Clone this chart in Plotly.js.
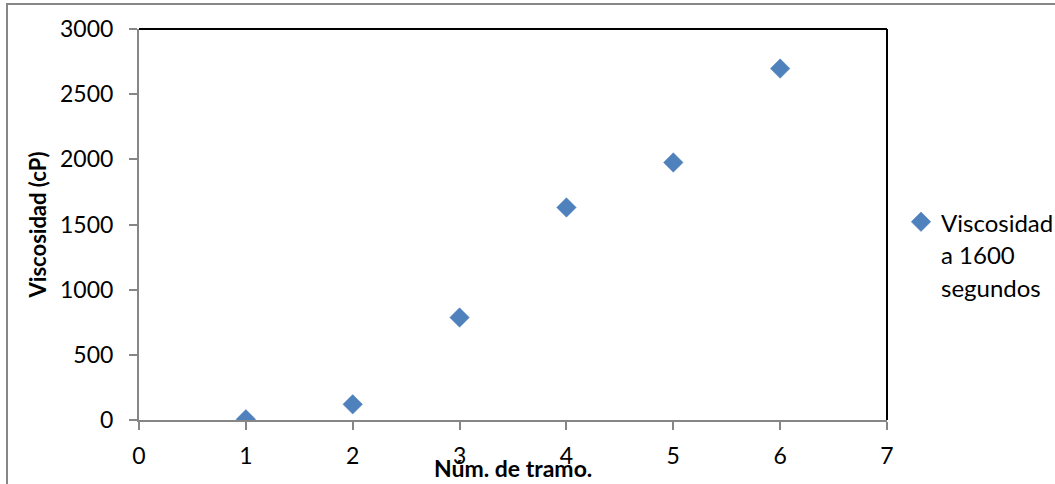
<!DOCTYPE html>
<html>
<head>
<meta charset="utf-8">
<script src="https://cdn.plot.ly/plotly-3.0.1.min.js"></script>
<style>
html,body{margin:0;padding:0;background:#fff;}
#chart{width:1055px;height:484px;}
</style>
</head>
<body>
<div id="chart"></div>
<script>
// Data
const tramo = [1, 2, 3, 4, 5, 6];
const viscosidad = [5, 120, 786, 1631, 1976, 2696];
const seriesName = "Viscosidad a 1600 segundos";
const xTitle = "Núm. de tramo.";
const yTitle = "Viscosidad (cP)";
const xTicks = [0, 1, 2, 3, 4, 5, 6, 7];
const yTicks = [0, 500, 1000, 1500, 2000, 2500, 3000];

const W = 1055, H = 484;
const M = {l: 139, r: 168, t: 29, b: 64, autoexpand: false};
const PW = W - M.l - M.r, PH = H - M.t - M.b;
const px = v => (v - M.l) / PW;       // pixel x -> paper x
const py = v => (H - M.b - v) / PH;   // pixel y -> paper y

const font = "Lato, 'Open Sans', sans-serif";
const legSpan = s => "<span style='font-size:24px'>" + s + "</span>";

const trace = {
  x: tramo,
  y: viscosidad,
  type: 'scatter',
  mode: 'markers',
  name: legSpan('Viscosidad') + '<br>' + legSpan('a 1600') + '<br>' + legSpan('segundos'),
  marker: {symbol: 'diamond', size: 15, color: '#4F81BD', line: {width: 0.5, color: '#4A7EBB'}},
  hovertemplate: seriesName + '<br>%{x}, %{y}<extra></extra>'
};

const layout = {
  width: W, height: H,
  margin: M,
  paper_bgcolor: '#ffffff',
  plot_bgcolor: '#ffffff',
  font: {family: font, size: 22, color: '#000000'},
  showlegend: true,
  legend: {
    x: px(901), y: py(199), xanchor: 'left', yanchor: 'top',
    font: {family: font, size: 25, color: '#000000'},
    valign: 'top',
    bgcolor: 'rgba(0,0,0,0)', borderwidth: 0
  },
  xaxis: {
    range: [0, 7],
    tickvals: xTicks,
    ticktext: xTicks.map(String),
    showgrid: false, zeroline: false,
    showline: true, linecolor: '#868686', linewidth: 2,
    ticks: 'outside', ticklen: 8, tickwidth: 2, tickcolor: '#868686',
    ticklabelstandoff: 6,
    tickfont: {family: font, size: 23, color: '#000000'},
    fixedrange: true
  },
  yaxis: {
    range: [0, 3000],
    tickvals: yTicks,
    ticktext: yTicks.map(String),
    showgrid: false, zeroline: false,
    showline: true, linecolor: '#868686', linewidth: 2,
    ticks: 'outside', ticklen: 8, tickwidth: 2, tickcolor: '#868686',
    ticklabelstandoff: 11,
    tickfont: {family: font, size: 23, color: '#000000'},
    title: {text: yTitle, font: {family: font, size: 22, color: '#000000', weight: 'bold'}, standoff: 7},
    fixedrange: true
  },
  annotations: [{
    text: '<b>' + xTitle + '</b>',
    xref: 'paper', yref: 'paper',
    x: 0.5, y: py(468), xanchor: 'center', yanchor: 'middle',
    showarrow: false,
    font: {family: font, size: 23, color: '#000000'}
  }],
  shapes: [
    // outer chart border
    {type: 'rect', xref: 'paper', yref: 'paper', x0: px(7), x1: px(1062), y0: py(492), y1: py(4),
     line: {color: '#878787', width: 2}, fillcolor: 'rgba(0,0,0,0)', layer: 'below'},
    // plot area top and right border
    {type: 'line', xref: 'paper', yref: 'paper', x0: 0, x1: 1, y0: 1, y1: 1, line: {color: '#000000', width: 2}},
    {type: 'line', xref: 'paper', yref: 'paper', x0: 1, x1: 1, y0: 0, y1: 1, line: {color: '#000000', width: 2}}
  ]
};

Plotly.newPlot('chart', [trace], layout, {displayModeBar: false, staticPlot: true});
</script>
</body>
</html>
